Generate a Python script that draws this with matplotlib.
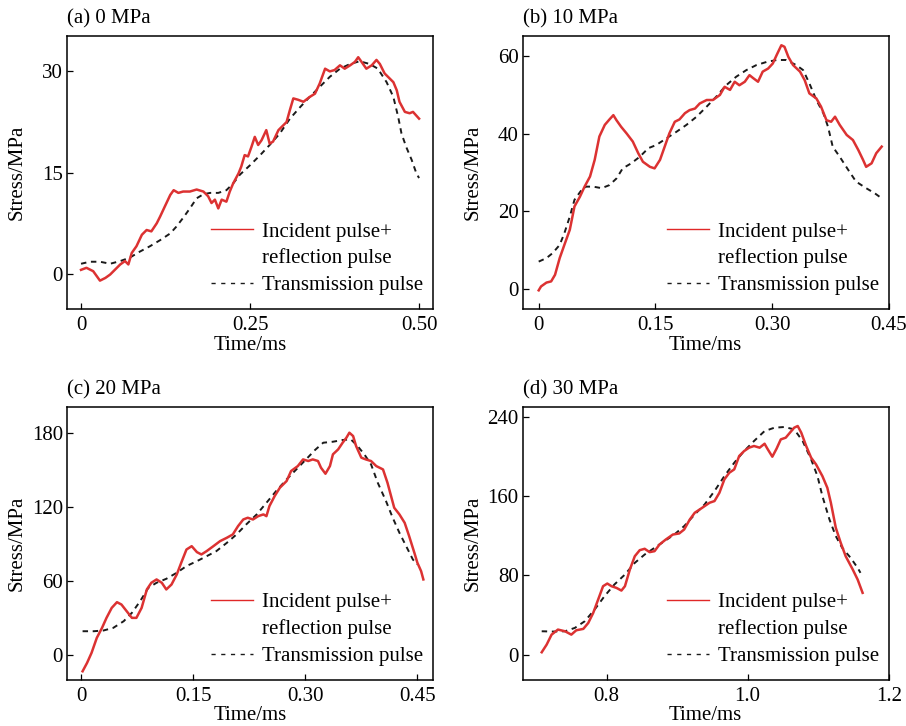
import numpy as np
import matplotlib; matplotlib.use("Agg")
import matplotlib.pyplot as plt
from matplotlib.lines import Line2D

plt.rcParams["font.family"] = ["Liberation Serif", "DejaVu Serif"]
plt.rcParams["font.size"] = 15

RED = "#dc3232"
# ---- (a) 0 MPa ----
A_RX = [0.000,0.008,0.018,0.023,0.028,0.036,0.043,0.050,0.058,0.065,0.070,0.075,0.082,0.090,0.097,0.104,0.112,0.117,
        0.124,0.132,0.137,0.144,0.151,0.161,0.171,0.181,0.188,0.193,0.198,0.203,0.208,0.215,0.220,0.225,0.233,0.237,
        0.242,0.247,0.252,0.257,0.262,0.267,0.274,0.279,0.284,0.292,0.299,0.304,0.309,0.314,0.321,0.329,0.338,0.346,
        0.353,0.361,0.368,0.375,0.383,0.390,0.398,0.405,0.410,0.415,0.422,0.430,0.437,0.442,0.449,0.457,0.462,0.467,
        0.471,0.479,0.486,0.491,0.500]
A_RY = [0.6,0.9,0.4,-0.3,-1.0,-0.6,-0.1,0.6,1.4,1.9,1.4,3.1,4.1,5.8,6.5,6.3,7.5,8.5,10.0,11.7,12.4,12.0,12.2,12.2,
        12.5,12.2,11.5,10.5,11.0,9.7,11.0,10.7,12.2,13.4,14.9,15.9,17.6,17.4,18.8,20.3,19.1,19.8,21.3,19.3,19.6,21.3,
        22.0,22.5,24.3,26.0,25.8,25.5,26.2,26.7,28.2,30.4,30.0,30.2,30.9,30.4,30.9,31.4,32.1,31.4,30.4,30.9,31.7,31.1,
        29.7,28.9,28.4,27.2,25.5,24.0,23.8,24.0,23.0]
A_TX = [0.000,0.013,0.028,0.043,0.058,0.072,0.087,0.102,0.117,0.132,0.141,0.151,0.161,0.171,0.181,0.191,0.203,0.215,
        0.225,0.235,0.250,0.265,0.279,0.294,0.309,0.324,0.338,0.353,0.368,0.383,0.398,0.412,0.427,0.439,0.452,0.462,
        0.469,0.474,0.481,0.489,0.496,0.500]
A_TY = [1.5,1.8,1.8,1.5,1.9,2.4,3.3,4.1,5.0,6.0,7.0,8.3,9.7,11.2,11.8,12.0,12.0,12.4,13.4,14.7,16.1,17.6,19.1,20.8,
        23.0,24.7,26.2,27.7,29.2,30.4,31.1,31.5,31.1,30.4,28.4,26.2,23.3,20.8,18.8,16.9,14.9,14.2]
# ---- (b) 10 MPa ----
B_RX = [0.000,0.003,0.010,0.016,0.021,0.027,0.033,0.040,0.046,0.053,0.059,0.066,0.072,0.078,0.085,0.091,0.096,0.100,
        0.106,0.113,0.121,0.128,0.134,0.143,0.149,0.156,0.162,0.168,0.175,0.181,0.188,0.194,0.201,0.207,0.216,0.224,
        0.233,0.239,0.246,0.252,0.258,0.265,0.271,0.276,0.282,0.288,0.295,0.301,0.306,0.312,0.316,0.321,0.327,0.336,
        0.342,0.348,0.357,0.363,0.370,0.376,0.381,0.387,0.396,0.404,0.411,0.417,0.421,0.428,0.434,0.441]
B_RY = [-0.3,0.7,1.7,2.0,3.7,8.0,11.4,15.3,21.3,23.8,26.4,29.0,33.3,39.3,42.3,43.7,44.8,43.5,41.8,40.1,38.0,35.0,
        32.8,31.5,31.1,33.3,36.7,40.1,43.1,43.7,45.3,46.1,46.5,47.8,48.7,48.7,50.0,52.1,51.3,53.4,52.5,53.4,55.1,54.3,
        53.4,56.0,56.8,58.1,60.3,62.8,62.4,59.8,57.7,56.0,53.8,50.4,49.1,47.0,43.5,43.1,44.4,42.3,39.7,38.4,35.8,33.3,
        31.5,32.4,35.0,36.7]
B_TX = [0.000,0.010,0.018,0.027,0.033,0.040,0.046,0.055,0.061,0.070,0.081,0.091,0.100,0.108,0.119,0.130,0.141,0.151,
        0.164,0.177,0.190,0.203,0.216,0.228,0.241,0.254,0.267,0.280,0.293,0.306,0.318,0.331,0.340,0.348,0.357,0.366,
        0.372,0.378,0.387,0.398,0.408,0.421,0.432,0.441]
B_TY = [7.1,8.0,9.3,11.4,14.4,18.7,23.0,25.5,26.4,26.4,26.0,26.8,28.5,31.1,32.4,34.1,36.3,37.1,38.8,40.5,42.3,44.4,
        47.0,49.5,52.5,54.7,56.4,57.7,58.5,59.0,59.0,57.7,56.4,53.0,48.7,45.3,41.8,36.7,34.1,30.7,27.7,26.0,24.7,23.4]
# ---- (c) 20 MPa ----
C_RX = [0.002,0.008,0.014,0.021,0.028,0.034,0.041,0.048,0.054,0.061,0.068,0.074,0.081,0.088,0.094,0.101,0.108,0.114,
        0.121,0.128,0.134,0.141,0.148,0.155,0.161,0.168,0.177,0.186,0.195,0.203,0.210,0.217,0.223,0.230,0.237,0.244,
        0.248,0.252,0.259,0.266,0.275,0.281,0.290,0.297,0.304,0.310,0.317,0.321,0.327,0.333,0.337,0.344,0.350,0.355,
        0.359,0.364,0.368,0.375,0.381,0.388,0.395,0.404,0.410,0.419,0.426,0.433,0.439,0.446,0.450,0.455,0.458]
C_RY = [-13.0,-6.2,1.9,14.0,22.1,30.2,38.3,42.9,41.0,35.6,30.2,30.2,38.3,53.2,58.6,61.3,58.6,53.2,57.2,65.3,74.8,
        85.5,88.2,83.4,81.5,84.2,88.2,92.3,95.0,97.7,104.4,109.8,111.2,109.8,112.5,113.9,112.5,120.6,128.7,135.5,
        140.9,149.0,153.0,158.4,157.1,158.4,157.1,151.7,146.8,153.0,162.5,166.5,171.9,175.9,180.0,177.3,169.2,159.8,
        158.4,157.1,153.0,150.3,139.5,119.3,113.9,107.1,96.3,82.8,74.8,68.0,61.3]
C_TX = [0.002,0.017,0.030,0.043,0.057,0.068,0.079,0.090,0.101,0.114,0.128,0.141,0.155,0.168,0.181,0.195,0.208,0.221,
        0.235,0.248,0.261,0.275,0.288,0.301,0.313,0.324,0.337,0.350,0.361,0.370,0.379,0.388,0.397,0.408,0.417,0.426,
        0.435,0.444,0.450]
C_TY = [19.4,19.4,20.0,22.1,27.5,34.3,43.7,54.5,58.6,61.8,66.7,72.1,76.1,80.1,84.2,90.9,97.7,105.8,113.9,123.3,
        132.8,142.2,150.3,158.4,166.0,171.9,172.7,174.1,174.6,169.2,162.5,154.4,139.5,124.7,111.2,99.0,88.2,77.4,73.4]
# ---- (d) 30 MPa ----
D_RX = [0.708,0.715,0.722,0.731,0.741,0.750,0.757,0.767,0.774,0.781,0.788,0.795,0.801,0.807,0.814,0.821,0.826,0.833,
        0.840,0.847,0.854,0.861,0.868,0.875,0.884,0.894,0.903,0.910,0.918,0.925,0.932,0.939,0.946,0.953,0.960,0.967,
        0.974,0.981,0.988,0.995,1.002,1.009,1.017,1.024,1.028,1.035,1.041,1.047,1.054,1.060,1.066,1.071,1.076,1.083,
        1.090,1.097,1.106,1.113,1.118,1.125,1.132,1.139,1.149,1.156,1.163]
D_RY = [2.4,10.1,20.2,25.3,23.6,20.2,24.6,26.0,32.0,42.1,55.6,69.1,71.8,69.1,67.4,64.7,69.1,86.0,99.4,105.5,106.9,
        103.5,104.5,111.2,116.3,121.3,122.4,126.4,136.5,143.3,146.6,150.0,153.4,155.1,163.5,177.0,183.7,187.1,200.6,
        205.6,209.0,210.7,209.0,213.0,208.0,199.9,208.0,217.4,219.1,224.2,229.2,230.9,224.2,210.7,198.9,192.1,180.3,
        168.5,153.4,128.1,112.9,99.4,86.0,75.8,62.4]
D_TX = [0.708,0.724,0.741,0.755,0.769,0.783,0.797,0.811,0.826,0.840,0.854,0.868,0.882,0.896,0.910,0.925,0.939,0.953,
        0.967,0.981,0.995,1.009,1.024,1.038,1.052,1.066,1.078,1.090,1.099,1.106,1.116,1.125,1.134,1.146,1.156,1.160]
D_TY = [23.6,23.3,23.6,27.0,33.7,45.5,59.0,70.8,80.9,92.7,101.1,107.9,114.6,121.3,129.8,141.6,151.7,165.2,180.3,
        193.8,205.6,215.7,225.8,229.2,229.9,227.5,215.7,197.2,180.3,160.1,136.5,119.7,107.9,97.8,87.6,82.6]

PANELS = [
    ("(a) 0 MPa", A_RX, A_RY, A_TX, A_TY, (-0.0207, 0.5207), (-5.2, 35.2), [0, 0.25, 0.5], ["0", "0.25", "0.50"], [0, 15, 30]),
    ("(b) 10 MPa", B_RX, B_RY, B_TX, B_TY, (-0.0206, 0.45), (-5.1, 65.1), [0, 0.15, 0.3, 0.45], ["0", "0.15", "0.30", "0.45"], [0, 20, 40, 60]),
    ("(c) 20 MPa", C_RX, C_RY, C_TX, C_TY, (-0.0188, 0.471), (-19.8, 200.8), [0, 0.15, 0.3, 0.45], ["0", "0.15", "0.30", "0.45"], [0, 60, 120, 180]),
    ("(d) 30 MPa", D_RX, D_RY, D_TX, D_TY, (0.681, 1.2), (-25.3, 250.1), [0.8, 1.0, 1.2], ["0.8", "1.0", "1.2"], [0, 80, 160, 240]),
]
POS = [(0.0740, 0.5744), (0.5769, 0.5744), (0.0740, 0.0638), (0.5769, 0.0638)]

fig = plt.figure(figsize=(9.06, 7.26), dpi=100)
for (title, rx, ry, tx, ty, xl, yl, xt, xtl, yt), (x0, y0) in zip(PANELS, POS):
    ax = fig.add_axes([x0, y0, 0.4040, 0.3756])
    ax.plot(rx, ry, color=RED, lw=1.8, zorder=3)
    ax.plot(tx, ty, color="#1a1a1a", lw=1.4, dashes=(2.8, 2.4), zorder=2)
    ax.set_xlim(*xl); ax.set_ylim(*yl)
    ax.set_xticks(xt); ax.set_xticklabels(xtl); ax.set_yticks(yt)
    ax.tick_params(direction="in", length=4, width=0.9, pad=5)
    ax.tick_params(axis="y", pad=3)
    for s in ax.spines.values(): s.set_linewidth(1.1)
    ax.set_xlabel("Time/ms", labelpad=0); ax.set_ylabel("Stress/MPa")
    ax.xaxis.set_label_coords(0.5, -0.098); ax.yaxis.set_label_coords(-0.11, 0.5)
    ax.annotate(title, xy=(0, 1), xycoords="axes fraction", xytext=(0, 12.5), textcoords="offset points",
                ha="left", va="center")
    h = [Line2D([], [], color="#e02828", lw=1.0), Line2D([], [], color="none"),
         Line2D([], [], color="#1a1a1a", lw=1.0, dashes=(3, 4))]
    ax.legend(h, ["Incident pulse+", "reflection pulse", "Transmission pulse"], loc="center left",
              bbox_to_anchor=(0.393, 0.185), frameon=False, borderpad=0, borderaxespad=0,
              handlelength=2.03, handletextpad=0.43, labelspacing=0.34)

fig.savefig("out.png", dpi=100)
